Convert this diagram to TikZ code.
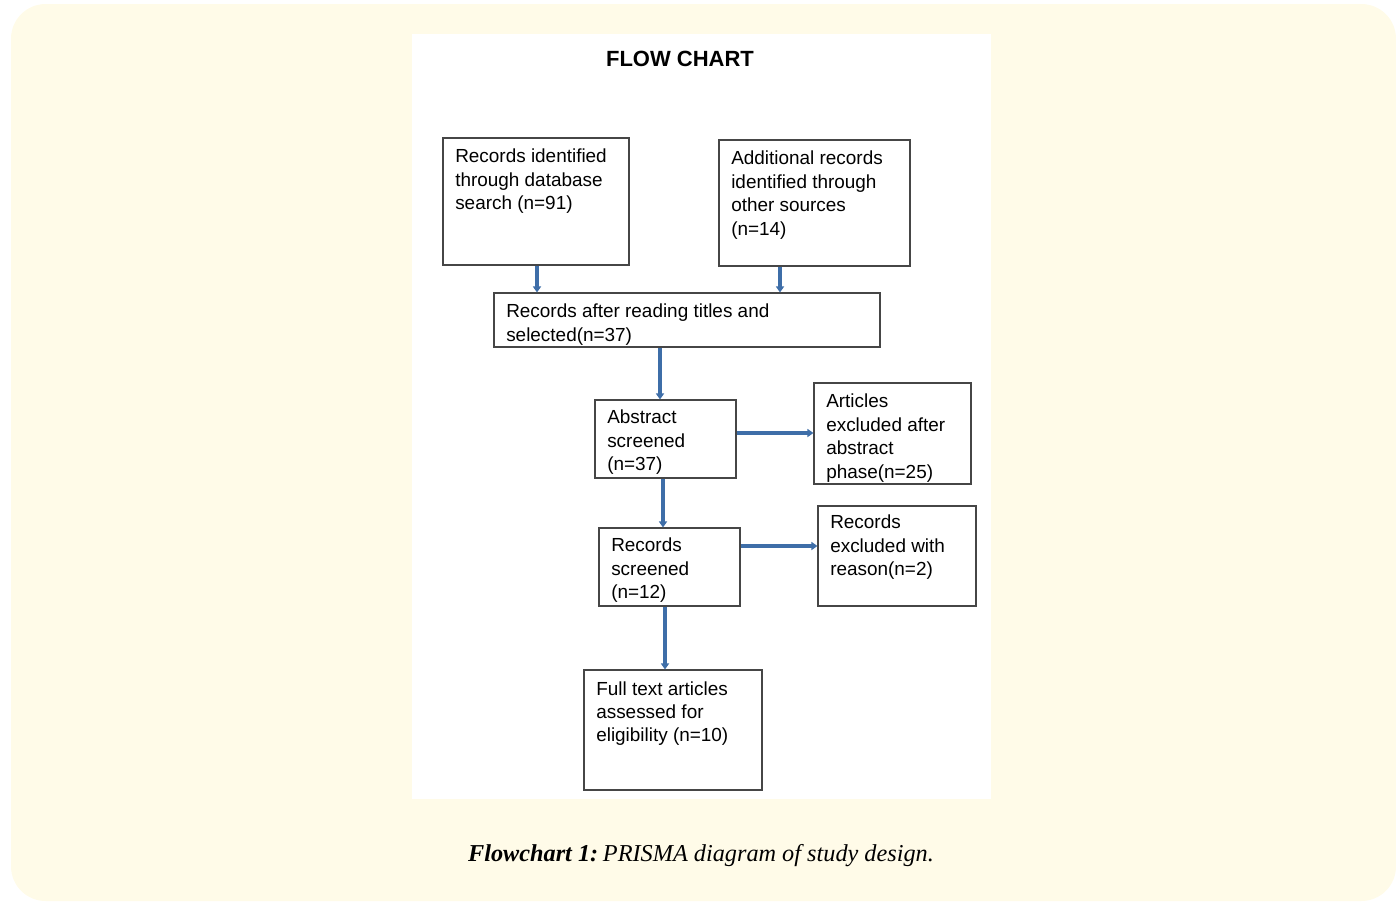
\documentclass[tikz,border=0pt]{standalone}
\usepackage{fontspec}
\setmainfont{Liberation Sans}
\newfontfamily\capfont{Liberation Serif}
\usetikzlibrary{arrows.meta,fit}
\definecolor{bg}{RGB}{255,251,232}
\definecolor{arrowblue}{RGB}{62,110,168}
\definecolor{boxline}{RGB}{70,70,70}
\tikzset{
  stagebox/.style={draw=boxline, line width=0.85pt, inner sep=0pt, fill=white},
  boxtext/.style={anchor=north west, inner sep=0pt, align=left, font=\fontsize{14.2pt}{17.6pt}\selectfont},
  flowarrow/.style={draw=arrowblue, line width=2.3pt, -{Triangle[length=4.5pt,width=6pt]}},
}
\begin{document}
\begin{tikzpicture}[x=0.75pt,y=-0.75pt]
\useasboundingbox (0,0) rectangle (1396,901);
\fill[bg, rounded corners=26pt] (11,4) rectangle (1396,901);
\node[fit={(412,34) (991,799)}, inner sep=0pt, fill=white] (panel) {};
\node[font=\bfseries\fontsize{16.5pt}{20pt}\selectfont] (title) at (680,59) {FLOW CHART};

\node[stagebox, fit={(443,138) (629,265)}] (b1) {};
\node[stagebox, fit={(719,140) (910,266)}] (b2) {};
\node[stagebox, fit={(494,293) (880,347)}] (b3) {};
\node[stagebox, fit={(595,400) (736,478)}] (b4) {};
\node[stagebox, fit={(814,383) (971,484)}] (b5) {};
\node[stagebox, fit={(599,528) (740,606)}] (b6) {};
\node[stagebox, fit={(818,506) (976,606)}] (b7) {};
\node[stagebox, fit={(584,670) (762,790)}] (b8) {};

\node[boxtext] (t1) at (455,149) {Records identified\\through database\\search (n=91)};
\node[boxtext] (t2) at (731,151) {Additional records\\identified through\\other sources\\(n=14)};
\node[boxtext] (t3) at (506,304) {Records after reading titles and\\selected(n=37)};
\node[boxtext] (t4) at (607,410) {Abstract\\screened\\(n=37)};
\begin{scope}
\clip (814,383) rectangle (971,484);
\node[boxtext] (t5) at (826,394) {Articles\\excluded after\\abstract\\phase(n=25)};
\end{scope}
\draw[boxline, line width=0.85pt] (b5.south west) -- (b5.south east);
\node[boxtext] (t6) at (611,538) {Records\\screened\\(n=12)};
\node[boxtext] (t7) at (830,515) {Records\\excluded with\\reason(n=2)};
\node[boxtext] (t8) at (596,681) {Full text articles\\assessed for\\eligibility (n=10)};

\coordinate (x537) at (537,0);
\coordinate (x780) at (780,0);
\coordinate (x660) at (660,0);
\coordinate (x663) at (663,0);
\coordinate (x665) at (665,0);
\coordinate (y433) at (0,433);
\coordinate (y546) at (0,546);

\draw[flowarrow] (b1.south -| x537) -- (b3.north -| x537);
\draw[flowarrow] (b2.south -| x780) -- (b3.north -| x780);
\draw[flowarrow] (b3.south -| x660) -- (b4.north -| x660);
\draw[flowarrow] (b4.east |- y433) -- (b5.west |- y433);
\draw[flowarrow] (b4.south -| x663) -- (b6.north -| x663);
\draw[flowarrow] (b6.east |- y546) -- (b7.west |- y546);
\draw[flowarrow] (b6.south -| x665) -- (b8.north -| x665);

\node[font=\capfont\fontsize{18.2pt}{22pt}\selectfont] (cap) at (701,856) {\textbf{\textit{Flowchart 1:}}\kern-1pt\ \textit{PRISMA diagram of study design.}};
\end{tikzpicture}
\end{document}
